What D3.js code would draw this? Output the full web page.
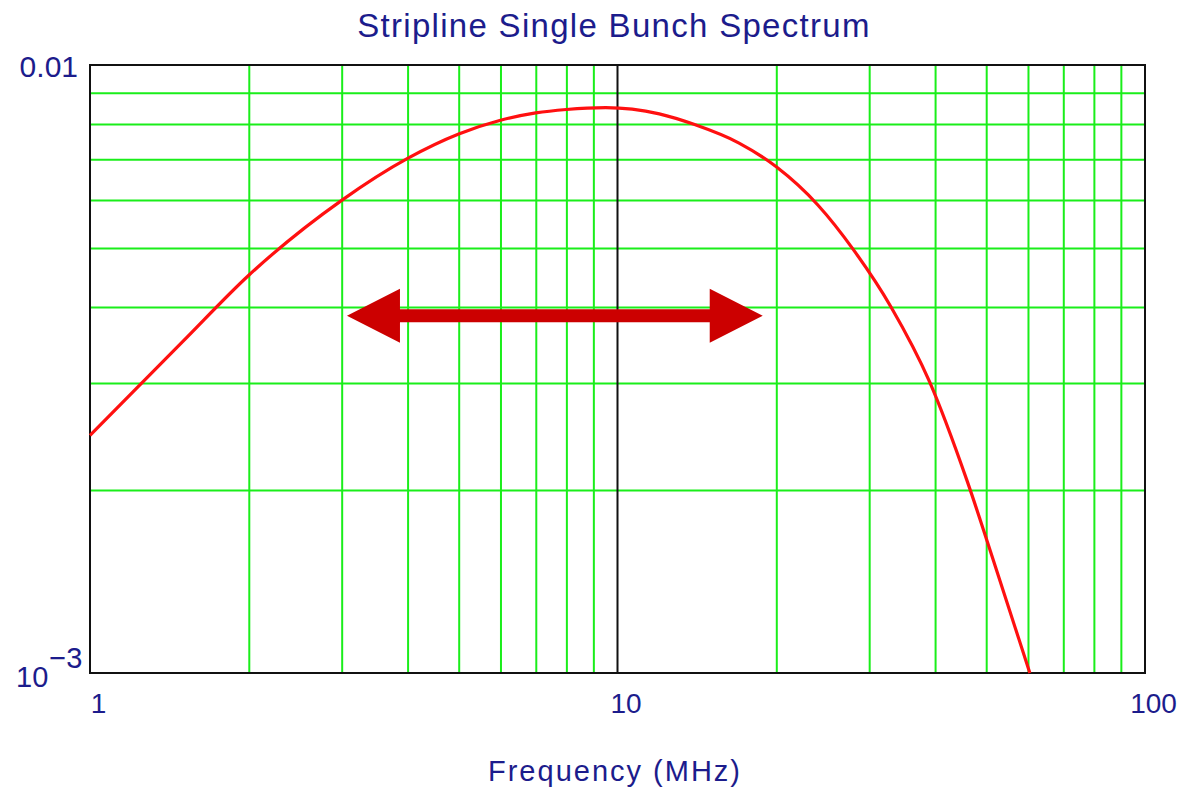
<!DOCTYPE html>
<html>
<head>
<meta charset="utf-8">
<script src="https://cdn.jsdelivr.net/npm/d3@7"></script>
<style>
  body { margin: 0; background: #fff; }
  text { font-family: "Liberation Sans", Arial, sans-serif; fill: #1c1c8c; }
</style>
</head>
<body>
<svg id="chart"></svg>
<script>
// data
const freq = [1, 1.5, 2, 3, 4, 5, 6, 7, 8, 9.5, 12, 14, 17, 20, 24, 28, 33, 39, 46, 52, 60.5];
const amp = [0.00246, 0.00351, 0.00451, 0.00599, 0.00702, 0.0077, 0.00811, 0.00834, 0.00845, 0.00851, 0.00831, 0.00798, 0.00744, 0.0068, 0.00588, 0.00497, 0.004, 0.00302, 0.00207, 0.0015, 0.001];
const xMajor = [1, 10, 100];
const xMinor = [2, 3, 4, 5, 6, 7, 8, 9, 20, 30, 40, 50, 60, 70, 80, 90];
const yMinor = [0.002, 0.003, 0.004, 0.005, 0.006, 0.007, 0.008, 0.009];
const arrowX = [3.07, 18.85];
const arrowY = 0.00387;

const W = 1184, H = 792;
const margin = { top: 65, right: 39, bottom: 119, left: 90 };
const w = W - margin.left - margin.right;
const h = H - margin.top - margin.bottom;

const svg = d3.select('#chart').attr('width', W).attr('height', H);
const g = svg.append('g').attr('transform', `translate(${margin.left},${margin.top})`);

const xScale = d3.scaleLog().domain([1, 100]).range([0, w]);
const yScale = d3.scaleLog().domain([0.001, 0.01]).range([h, 0]);

// grid
g.append('g')
  .attr('transform', `translate(0,${h})`)
  .call(d3.axisBottom(xScale).tickValues(xMinor).tickSize(-h).tickFormat(''))
  .call(a => a.select('.domain').remove())
  .selectAll('line').attr('stroke', '#1aee1a').attr('stroke-width', 2);

g.append('g')
  .call(d3.axisLeft(yScale).tickValues(yMinor).tickSize(-w).tickFormat(''))
  .call(a => a.select('.domain').remove())
  .selectAll('line').attr('stroke', '#1aee1a').attr('stroke-width', 2);

g.append('line')
  .attr('x1', xScale(10)).attr('x2', xScale(10))
  .attr('y1', 0).attr('y2', h)
  .attr('stroke', '#111').attr('stroke-width', 2);

// frame
g.append('rect')
  .attr('width', w).attr('height', h)
  .attr('fill', 'none').attr('stroke', '#111').attr('stroke-width', 2);

// curve
const line = d3.line()
  .x((d, i) => xScale(freq[i]))
  .y(d => yScale(d))
  .curve(d3.curveMonotoneX);

g.append('path')
  .datum(amp)
  .attr('d', line)
  .attr('fill', 'none')
  .attr('stroke', '#ff1010')
  .attr('stroke-width', 3.2);

// double arrow
const ax0 = xScale(arrowX[0]), ax1 = xScale(arrowX[1]), ay = yScale(arrowY);
const headL = 53, headH = 27, shaft = 6.5;
g.append('path')
  .attr('d', `M${ax0},${ay} L${ax0 + headL},${ay - headH} L${ax0 + headL},${ay - shaft}
    L${ax1 - headL},${ay - shaft} L${ax1 - headL},${ay - headH} L${ax1},${ay}
    L${ax1 - headL},${ay + headH} L${ax1 - headL},${ay + shaft}
    L${ax0 + headL},${ay + shaft} L${ax0 + headL},${ay + headH} Z`)
  .attr('fill', '#cc0000');

// x tick labels
const xAxis = g.append('g')
  .attr('transform', `translate(0,${h})`)
  .call(d3.axisBottom(xScale).tickValues(xMajor).tickSize(0).tickPadding(0).tickFormat(d3.format('d')));
xAxis.select('.domain').remove();
xAxis.selectAll('text')
  .attr('dx', 8).attr('dy', 0).attr('y', 40)
  .style('font-size', '28px').style('fill', '#1c1c8c');

// y tick labels
g.append('text')
  .attr('x', -12).attr('y', 12)
  .attr('text-anchor', 'end')
  .style('font-size', '30px')
  .text('0.01');

const yl = g.append('text')
  .attr('x', -74).attr('y', h + 14)
  .style('font-size', '29px');
yl.append('tspan').text('10');
yl.append('tspan').attr('dy', -19).attr('dx', 1).text('\u22123');

// titles
svg.append('text')
  .attr('x', 614).attr('y', 37)
  .attr('text-anchor', 'middle')
  .style('font-size', '33px')
  .style('letter-spacing', '1.3px')
  .text('Stripline Single Bunch Spectrum');

svg.append('text')
  .attr('x', 615).attr('y', 781)
  .attr('text-anchor', 'middle')
  .style('font-size', '29px')
  .style('letter-spacing', '2px')
  .text('Frequency (MHz)');
</script>
</body>
</html>
